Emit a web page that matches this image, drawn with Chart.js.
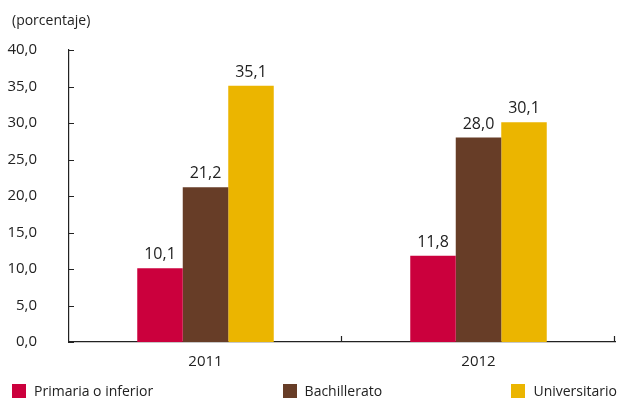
<!DOCTYPE html>
<html>
<head>
<meta charset="utf-8">
<script src="https://cdn.jsdelivr.net/npm/chart.js@4.4.1/dist/chart.umd.min.js"></script>
<style>
  html, body { margin: 0; padding: 0; background: #fff; }
  #wrap { position: relative; width: 621px; height: 401px; }
  #legend {
    position: absolute; left: 12px; right: 4px; top: 381px;
    display: flex; justify-content: space-between;
    font-family: "Open Sans", sans-serif; font-size: 14px; color: #222;
  }
  #legend span.item { display: flex; align-items: center; }
  #legend i { display: inline-block; width: 14px; height: 14px; margin-right: 8px; }
</style>
</head>
<body>
<div id="wrap">
  <canvas id="myChart" width="621" height="401"></canvas>
  <div id="legend"></div>
</div>
<script>
const years = ['2011', '2012'];
const primaria = [10.1, 11.8];
const bachillerato = [21.2, 28.0];
const universitario = [35.1, 30.1];
const seriesNames = ['Primaria o inferior', 'Bachillerato', 'Universitario'];
const seriesColors = ['#cb003d', '#673d27', '#ebb500'];
const yTicks = [0, 5, 10, 15, 20, 25, 30, 35, 40];

const fontFamily = '"Open Sans", sans-serif';
const ink = '#222';

function fmt(v) {
  return v.toFixed(1).replace('.', ',');
}

// small tick marks pointing into the plot, plus the title text
const decorations = {
  id: 'decorations',
  afterDraw(chart) {
    const c = chart.ctx;
    const area = chart.chartArea;
    const x = chart.scales.x;
    const y = chart.scales.y;
    c.save();
    c.strokeStyle = ink;
    c.lineWidth = 1.2;
    c.beginPath();
    y.ticks.forEach((t, i) => {
      const py = Math.round(y.getPixelForTick(i)) + 0.5;
      c.moveTo(area.left, py);
      c.lineTo(area.left + 5, py);
    });
    const bounds = [area.right];
    for (let i = 0; i < x.ticks.length - 1; i++) {
      bounds.push((x.getPixelForTick(i) + x.getPixelForTick(i + 1)) / 2);
    }
    bounds.forEach(bx => {
      const px = Math.round(bx) - 0.5;
      c.moveTo(px, area.bottom);
      c.lineTo(px, area.bottom - 6);
    });
    c.stroke();

    c.fillStyle = ink;
    c.font = '14px ' + fontFamily;
    c.textAlign = 'left';
    c.textBaseline = 'middle';
    c.fillText('(porcentaje)', 12, 21);

    // value labels above the bars
    c.font = '16px ' + fontFamily;
    c.textAlign = 'center';
    c.textBaseline = 'alphabetic';
    chart.data.datasets.forEach((ds, di) => {
      chart.getDatasetMeta(di).data.forEach((bar, i) => {
        c.fillText(fmt(ds.data[i]), bar.x, bar.y - 9);
      });
    });
    c.restore();
  }
};

const ctx = document.getElementById('myChart').getContext('2d');
const myChart = new Chart(ctx, {
  type: 'bar',
  data: {
    labels: years,
    datasets: [primaria, bachillerato, universitario].map((d, i) => ({
      label: seriesNames[i],
      data: d,
      backgroundColor: seriesColors[i],
      borderWidth: 0,
      categoryPercentage: 0.5,
      barPercentage: 1.0
    }))
  },
  options: {
    responsive: false,
    animation: false,
    layout: { padding: { top: 50, right: 6, bottom: 27, left: 0 } },
    plugins: {
      legend: { display: false },
      tooltip: { enabled: false }
    },
    scales: {
      x: {
        grid: { display: false },
        border: { display: true, color: ink, width: 1.2 },
        ticks: { color: ink, padding: 3, font: { family: fontFamily, size: 15 } }
      },
      y: {
        min: 0,
        max: 40,
        afterBuildTicks(scale) {
          scale.ticks = yTicks.map(v => ({ value: v }));
        },
        afterFit(scale) {
          scale.width = 69;
        },
        grid: { display: false },
        border: { display: true, color: ink, width: 1.2 },
        ticks: {
          color: ink,
          padding: 24,
          font: { family: fontFamily, size: 15 },
          callback: v => fmt(v)
        }
      }
    }
  },
  plugins: [decorations]
});

const legend = document.getElementById('legend');
seriesNames.forEach((name, i) => {
  const item = document.createElement('span');
  item.className = 'item';
  const sw = document.createElement('i');
  sw.style.background = seriesColors[i];
  item.appendChild(sw);
  item.appendChild(document.createTextNode(name));
  legend.appendChild(item);
});
</script>
</body>
</html>
